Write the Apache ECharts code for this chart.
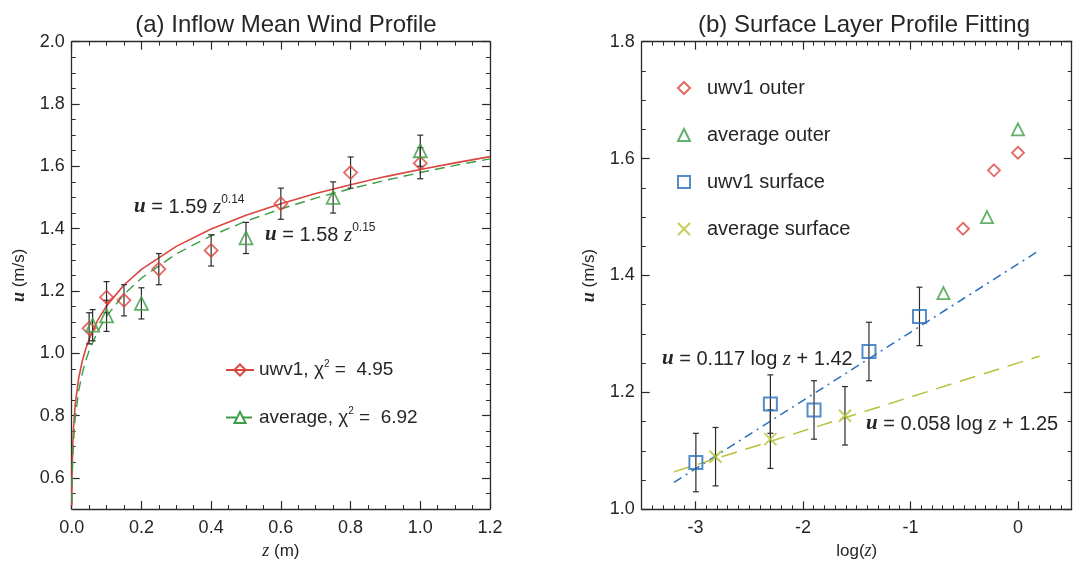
<!DOCTYPE html>
<html><head><meta charset="utf-8">
<script src="https://cdn.jsdelivr.net/npm/echarts@6/dist/echarts.min.js"></script>
<style>html,body{margin:0;padding:0;background:#fff}#c{width:1074px;height:562px}</style>
</head><body><div id="c"></div>
<script>
// ---------- data (panel a) ----------
const aZ_uwv1   = [0.05, 0.10, 0.15, 0.25, 0.40, 0.60, 0.80, 1.00];
const aU_uwv1   = [1.08, 1.18, 1.17, 1.27, 1.33, 1.48, 1.58, 1.61];
const aErr_uwv1 = [0.05, 0.05, 0.05, 0.05, 0.05, 0.05, 0.05, 0.05];
const aZ_avg    = [0.06, 0.10, 0.20, 0.50, 0.75, 1.00];
const aU_avg    = [1.09, 1.12, 1.16, 1.37, 1.50, 1.65];
const aErr_avg  = [0.05, 0.05, 0.05, 0.05, 0.05, 0.05];
// fitted power-law curves as drawn (u = 1.59 z^0.14, u = 1.58 z^0.15)
const fitZ      = [0.0003, 0.001, 0.003, 0.005, 0.01, 0.02, 0.03, 0.04, 0.05, 0.075, 0.1, 0.15, 0.2, 0.3, 0.4, 0.5, 0.6, 0.7, 0.8, 0.9, 1.0, 1.1, 1.2];
const fitU_uwv1 = [0.511, 0.605, 0.705, 0.757, 0.834, 0.920, 0.973, 1.013, 1.045, 1.107, 1.152, 1.219, 1.269, 1.343, 1.399, 1.443, 1.480, 1.513, 1.541, 1.567, 1.590, 1.611, 1.631];
const fitU_avg  = [0.468, 0.561, 0.661, 0.714, 0.792, 0.879, 0.934, 0.975, 1.008, 1.071, 1.119, 1.189, 1.241, 1.319, 1.377, 1.424, 1.463, 1.498, 1.528, 1.555, 1.580, 1.603, 1.624];
const aXLabels  = [0, 0.2, 0.4, 0.6, 0.8, 1.0, 1.2];
const aYLabels  = [0.6, 0.8, 1.0, 1.2, 1.4, 1.6, 1.8, 2.0];

// ---------- data (panel b) ----------
const bX_uwv1Outer = [-0.511, -0.223, 0.0];
const bU_uwv1Outer = [1.48, 1.58, 1.61];
const bX_avgOuter  = [-0.693, -0.288, 0.0];
const bU_avgOuter  = [1.37, 1.50, 1.65];
const bX_uwv1Surf  = [-2.996, -2.303, -1.897, -1.386, -0.916];
const bU_uwv1Surf  = [1.08, 1.18, 1.17, 1.27, 1.33];
const bErr_uwv1Surf= [0.05, 0.05, 0.05, 0.05, 0.05];
const bX_avgSurf   = [-2.813, -2.303, -1.609];
const bU_avgSurf   = [1.09, 1.12, 1.16];
const bErr_avgSurf = [0.05, 0.05, 0.05];
const bFitX        = [-3.2, 0.2];
const bFitU_uwv1   = [1.046, 1.443];
const bFitU_avg    = [1.064, 1.262];
const bXLabels     = [-3, -2, -1, 0];
const bYLabels     = [1.0, 1.2, 1.4, 1.6, 1.8];

// ---------- styles ----------
const FONT = "'Liberation Sans', Arial, Helvetica, sans-serif";
const SERIF = "'Liberation Serif', 'Times New Roman', serif";
const AX = '#2a2a2a', TXT = '#262626';
const RED = '#d9453f', GREEN = '#3c9c46', BLUE = '#2a70bd', YEL = '#b7c23a';

const zip = (a, b) => a.map((v, i) => [v, b[i]]);
const zip3 = (a, b, c) => a.map((v, i) => [v, b[i], c[i]]);

function axisSet(dim, gi, min, max, major, labels, minorInt, fmt, nameCfg) {
  const posA = dim === 'x' ? 'bottom' : 'left';
  const posB = dim === 'x' ? 'top' : 'right';
  const base = {type: 'value', gridIndex: gi, min, max, splitLine: {show: false}};
  const shownLine = {show: true, onZero: false, lineStyle: {color: AX, width: 1.3}};
  const hiddenLine = {show: false, onZero: false};
  const majorTick = {show: true, inside: true, length: 8, customValues: major, lineStyle: {color: AX, width: 1.2}};
  const minorTick = {show: true, inside: true, length: 4, lineStyle: {color: AX, width: 1}};
  const main = Object.assign({}, base, {
    position: posA, axisLine: shownLine, axisTick: majorTick,
    axisLabel: {show: true, customValues: labels, formatter: fmt, fontSize: 18, fontFamily: FONT, color: TXT,
                margin: dim === 'x' ? 10 : 7},
  }, nameCfg);
  const minorA = Object.assign({}, base, {position: posA, interval: minorInt,
    axisLine: hiddenLine, axisTick: minorTick, axisLabel: {show: false}});
  const opp = Object.assign({}, base, {position: posB,
    axisLine: shownLine, axisTick: majorTick, axisLabel: {show: false}});
  const minorB = Object.assign({}, base, {position: posB, interval: minorInt,
    axisLine: hiddenLine, axisTick: minorTick, axisLabel: {show: false}});
  return [main, minorA, opp, minorB];
}

const nameRich = {
  u: {fontFamily: SERIF, fontStyle: 'italic', fontWeight: 'bold', fontSize: 18, color: TXT},
  z: {fontFamily: SERIF, fontStyle: 'italic', fontSize: 18, color: TXT}
};
const xName = (n) => ({name: n, nameLocation: 'middle', nameGap: 29,
  nameTextStyle: {fontSize: 17, fontFamily: FONT, color: TXT, rich: nameRich}});
const yName = (n) => ({name: n, nameLocation: 'middle', nameGap: 43, nameRotate: 90,
  nameTextStyle: {fontSize: 17, fontFamily: FONT, color: TXT, rich: nameRich}});

const f1 = v => v.toFixed(1);
const f0 = v => String(Math.round(v));

const xAxis = [].concat(
  axisSet('x', 0, 0, 1.2, aXLabels, aXLabels, 0.05, f1, xName('{z|z} (m)')),
  axisSet('x', 1, -3.5, 0.5, bXLabels, bXLabels, 0.1, f0, xName('log({z|z})'))
);
const yAxis = [].concat(
  axisSet('y', 0, 0.5, 2.0, aYLabels, aYLabels, 0.05, f1, yName('{u|u} (m/s)')),
  axisSet('y', 1, 1.0, 1.8, bYLabels, bYLabels, 0.05, f1, yName('{u|u} (m/s)'))
);

function errRender(params, api) {
  const x = api.value(0), y = api.value(1), e = api.value(2);
  const t = api.coord([x, y + e]), b = api.coord([x, y - e]);
  const st = {stroke: '#2b2b2b', lineWidth: 1.2};
  const cw = 3;
  return {type: 'group', children: [
    {type: 'line', shape: {x1: t[0], y1: t[1], x2: b[0], y2: b[1]}, style: st},
    {type: 'line', shape: {x1: t[0] - cw, y1: t[1], x2: t[0] + cw, y2: t[1]}, style: st},
    {type: 'line', shape: {x1: b[0] - cw, y1: b[1], x2: b[0] + cw, y2: b[1]}, style: st}
  ]};
}
const hollow = (c, w) => ({color: 'rgba(255,255,255,0)', borderColor: c, borderWidth: w || 1.8});
const XMARK = 'path://M0,0L10,10M10,0L0,10';

const series = [
  // panel a
  {name: 'uwv1', type: 'line', xAxisIndex: 0, yAxisIndex: 0, data: zip(fitZ, fitU_uwv1),
   showSymbol: false, symbol: 'diamond', symbolSize: 11, itemStyle: hollow(RED),
   lineStyle: {color: RED, width: 1.6}, silent: true, z: 2},
  {name: 'average', type: 'line', xAxisIndex: 0, yAxisIndex: 0, data: zip(fitZ, fitU_avg),
   showSymbol: false, symbol: 'triangle', symbolSize: 11, itemStyle: hollow(GREEN),
   lineStyle: {color: GREEN, width: 1.4, type: [10, 6]}, silent: true, z: 2},
  {type: 'custom', xAxisIndex: 0, yAxisIndex: 0, renderItem: errRender, data: zip3(aZ_uwv1, aU_uwv1, aErr_uwv1), z: 3, silent: true},
  {type: 'custom', xAxisIndex: 0, yAxisIndex: 0, renderItem: errRender, data: zip3(aZ_avg, aU_avg, aErr_avg), z: 3, silent: true},
  {name: 'uwv1 pts', type: 'scatter', xAxisIndex: 0, yAxisIndex: 0, data: zip(aZ_uwv1, aU_uwv1),
   symbol: 'diamond', symbolSize: 13, itemStyle: hollow(RED), z: 4},
  {name: 'average pts', type: 'scatter', xAxisIndex: 0, yAxisIndex: 0, data: zip(aZ_avg, aU_avg),
   symbol: 'triangle', symbolSize: 13, itemStyle: hollow(GREEN), z: 4},
  // panel b
  {name: 'fit uwv1', type: 'line', xAxisIndex: 4, yAxisIndex: 4, data: zip(bFitX, bFitU_uwv1),
   showSymbol: false, lineStyle: {color: BLUE, width: 1.5, type: [9, 5, 2, 5]}, silent: true, z: 2},
  {name: 'fit avg', type: 'line', xAxisIndex: 4, yAxisIndex: 4, data: zip(bFitX, bFitU_avg),
   showSymbol: false, lineStyle: {color: YEL, width: 1.5, type: [16, 9]}, silent: true, z: 2},
  {type: 'custom', xAxisIndex: 4, yAxisIndex: 4, renderItem: errRender, data: zip3(bX_uwv1Surf, bU_uwv1Surf, bErr_uwv1Surf), z: 3, silent: true},
  {type: 'custom', xAxisIndex: 4, yAxisIndex: 4, renderItem: errRender, data: zip3(bX_avgSurf, bU_avgSurf, bErr_avgSurf), z: 3, silent: true},
  {name: 'uwv1 outer', type: 'scatter', xAxisIndex: 4, yAxisIndex: 4, data: zip(bX_uwv1Outer, bU_uwv1Outer),
   symbol: 'diamond', symbolSize: 12, itemStyle: hollow(RED), z: 4},
  {name: 'average outer', type: 'scatter', xAxisIndex: 4, yAxisIndex: 4, data: zip(bX_avgOuter, bU_avgOuter),
   symbol: 'triangle', symbolSize: 12, itemStyle: hollow(GREEN), z: 4},
  {name: 'uwv1 surface', type: 'scatter', xAxisIndex: 4, yAxisIndex: 4, data: zip(bX_uwv1Surf, bU_uwv1Surf),
   symbol: 'rect', symbolSize: 13, itemStyle: hollow(BLUE, 2), z: 4},
  {name: 'average surface', type: 'scatter', xAxisIndex: 4, yAxisIndex: 4, data: zip(bX_avgSurf, bU_avgSurf),
   symbol: XMARK, symbolSize: 12, itemStyle: hollow(YEL, 2), z: 4}
];

const annRich = {
  u: {fontFamily: SERIF, fontStyle: 'italic', fontWeight: 'bold', fontSize: 21, lineHeight: 26, fill: TXT},
  z: {fontFamily: SERIF, fontStyle: 'italic', fontSize: 21, lineHeight: 26, fill: TXT},
  t: {fontFamily: FONT, fontSize: 20, lineHeight: 26, fill: TXT},
  s: {fontFamily: FONT, fontSize: 12, lineHeight: 15, verticalAlign: 'top', fill: TXT}
};
function ann(x, y, text) {
  return {type: 'text', x, y, silent: true,
    style: {text, rich: annRich, verticalAlign: 'middle', align: 'left', fill: TXT}};
}

const option = {
  backgroundColor: '#ffffff',
  animation: false,
  title: [
    {text: '(a) Inflow Mean Wind Profile', left: 281, top: 8, textAlign: 'center',
     textStyle: {fontSize: 24, fontWeight: 'normal', fontFamily: FONT, color: TXT}},
    {text: '(b) Surface Layer Profile Fitting', left: 859, top: 8, textAlign: 'center',
     textStyle: {fontSize: 24, fontWeight: 'normal', fontFamily: FONT, color: TXT}}
  ],
  grid: [
    {left: 71.7, top: 41.7, width: 418.3, height: 467.3, outerBoundsMode: 'none', containLabel: false},
    {left: 641.7, top: 41.7, width: 430, height: 467.6, outerBoundsMode: 'none', containLabel: false}
  ],
  legend: [
    {data: ['uwv1', 'average'], orient: 'vertical', left: 225, top: 359, padding: 0, itemWidth: 28, itemHeight: 14,
     itemGap: 27, selectedMode: false,
     formatter: n => n === 'uwv1' ? '{t|uwv1, χ}{s|2}{t| =  4.95}' : '{t|average, χ}{s|2}{t| =  6.92}',
     textStyle: {fontFamily: FONT, fontSize: 19, color: TXT, rich: {
       t: {fontFamily: FONT, fontSize: 19, color: TXT, lineHeight: 22},
       s: {fontFamily: FONT, fontSize: 10, color: TXT, lineHeight: 13, verticalAlign: 'top'}}}},
    {data: ['uwv1 outer', 'average outer', 'uwv1 surface', 'average surface'], orient: 'vertical',
     left: 677, top: 78, padding: 0, itemWidth: 12, itemHeight: 12, itemGap: 27, selectedMode: false,
     formatter: n => '{t|' + n + '}',
     textStyle: {fontFamily: FONT, fontSize: 20, color: TXT, rich: {
       t: {fontFamily: FONT, fontSize: 20, color: TXT, lineHeight: 22, padding: [0, 0, 0, 12]}}}}
  ],
  xAxis, yAxis, series,
  graphic: [
    ann(134, 207, '{u|u}{t| = 1.59 }{z|z}{s|0.14}'),
    ann(265, 235, '{u|u}{t| = 1.58 }{z|z}{s|0.15}'),
    ann(662, 359, '{u|u}{t| = 0.117 log }{z|z}{t| + 1.42}'),
    ann(866, 424, '{u|u}{t| = 0.058 log }{z|z}{t| + 1.25}')
  ]
};

const chart = echarts.init(document.getElementById('c'), null, {renderer: 'canvas'});
chart.setOption(option);
</script>
</body></html>
